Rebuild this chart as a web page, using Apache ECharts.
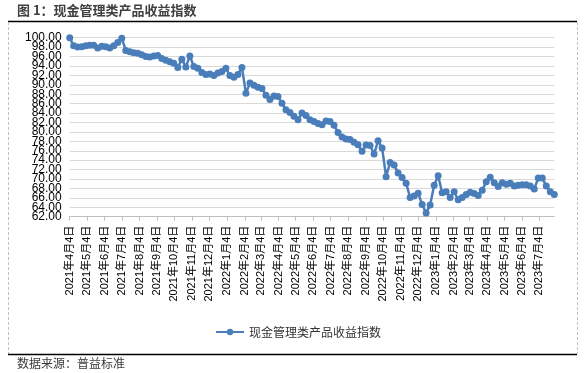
<!DOCTYPE html>
<html>
<head>
<meta charset="utf-8">
<script src="https://cdn.jsdelivr.net/npm/echarts@6/dist/echarts.min.js"></script>
<style>html,body{margin:0;padding:0;background:#fff}#c{width:585px;height:373px}</style>
</head>
<body>
<div id="c"></div>
<script>
var titleText = '图 1：现金管理类产品收益指数';
var sourceText = '数据来源：普益标准';
var seriesName = '现金管理类产品收益指数';

var dates = [
'2021-04-04','2021-04-11','2021-04-18','2021-04-25','2021-05-02','2021-05-09','2021-05-16','2021-05-23','2021-05-30','2021-06-06',
'2021-06-13','2021-06-20','2021-06-27','2021-07-04','2021-07-11','2021-07-18','2021-07-25','2021-08-01','2021-08-08','2021-08-15',
'2021-08-22','2021-08-29','2021-09-05','2021-09-12','2021-09-19','2021-09-26','2021-10-03','2021-10-10','2021-10-17','2021-10-24',
'2021-10-31','2021-11-07','2021-11-14','2021-11-21','2021-11-28','2021-12-05','2021-12-12','2021-12-19','2021-12-26',
'2022-01-02','2022-01-09','2022-01-16','2022-01-23','2022-01-30','2022-02-06','2022-02-13','2022-02-20','2022-02-27','2022-03-06',
'2022-03-13','2022-03-20','2022-03-27','2022-04-03','2022-04-10','2022-04-17','2022-04-24','2022-05-01','2022-05-08','2022-05-15',
'2022-05-22','2022-05-29','2022-06-05','2022-06-12','2022-06-19','2022-06-26','2022-07-03','2022-07-10','2022-07-17','2022-07-24',
'2022-07-31','2022-08-07','2022-08-14','2022-08-21','2022-08-28','2022-09-04','2022-09-11','2022-09-18','2022-09-25','2022-10-02',
'2022-10-09','2022-10-16','2022-10-23','2022-10-30','2022-11-06','2022-11-13','2022-11-20','2022-11-27','2022-12-04','2022-12-11',
'2022-12-18','2022-12-25',
'2023-01-01','2023-01-08','2023-01-15','2023-01-22','2023-01-29','2023-02-05','2023-02-12','2023-02-19','2023-02-26','2023-03-05',
'2023-03-12','2023-03-19','2023-03-26','2023-04-02','2023-04-09','2023-04-16','2023-04-23','2023-04-30','2023-05-07','2023-05-14',
'2023-05-21','2023-05-28','2023-06-04','2023-06-11','2023-06-18','2023-06-25','2023-07-02','2023-07-09','2023-07-16','2023-07-23',
'2023-07-30'
];

var values = [
100.0,98.3,98.0,98.1,98.3,98.4,98.4,97.8,98.2,98.1,
97.8,98.3,99.0,99.9,97.3,97.0,96.8,96.7,96.4,96.0,
95.9,96.1,96.2,95.6,95.2,94.9,94.6,93.7,95.4,93.8,
96.1,93.9,93.5,92.6,92.2,92.3,92.0,92.5,92.8,
93.5,92.0,91.6,92.2,93.7,88.2,90.4,89.9,89.5,89.2,
87.8,86.9,87.6,87.5,86.1,84.7,84.1,83.3,82.6,84.0,
83.5,82.6,82.2,81.8,81.5,82.3,82.2,81.4,79.9,78.9,
78.5,78.4,77.8,77.3,75.9,77.2,77.1,75.3,78.1,76.6,
70.5,73.5,73.0,71.3,70.3,69.1,66.1,66.4,67.0,64.6,
62.8,64.5,
68.7,70.7,67.1,67.3,66.1,67.3,65.6,66.1,66.7,67.2,
66.9,66.5,67.6,69.4,70.4,69.2,68.4,69.2,68.9,69.1,
68.5,68.7,68.8,68.8,68.5,67.9,70.2,70.2,68.5,67.3,
66.7
];

var tickDates = [
'2021-04-04','2021-05-04','2021-06-04','2021-07-04','2021-08-04','2021-09-04','2021-10-04','2021-11-04','2021-12-04',
'2022-01-04','2022-02-04','2022-03-04','2022-04-04','2022-05-04','2022-06-04','2022-07-04','2022-08-04','2022-09-04',
'2022-10-04','2022-11-04','2022-12-04','2023-01-04','2023-02-04','2023-03-04','2023-04-04','2023-05-04','2023-06-04','2023-07-04'
];

var yTicks = [62,64,66,68,70,72,74,76,78,80,82,84,86,88,90,92,94,96,98,100];
var yMin = 62, yMax = 100, yStep = 2;

function ts(s) { return Date.parse(s + 'T00:00:00Z'); }
var tickTs = tickDates.map(ts);
// split labels into two alternating sets so none of them is auto-hidden
var yTicksA = yTicks.filter(function (v, i) { return i % 2 === 0; });
var yTicksB = yTicks.filter(function (v, i) { return i % 2 === 1; });

var chart = echarts.init(document.getElementById('c'), null, {renderer: 'canvas'});
var cjk = "'Liberation Sans','Noto Sans CJK SC',sans-serif";

function yAxisDef(labelVals, showSplit) {
  return {
    type: 'value', position: 'left', offset: 0,
    min: yMin, max: yMax, interval: yStep,
    axisLine: {show: false},
    axisTick: {show: false},
    splitLine: {show: showSplit, lineStyle: {color: '#d9d9d9', width: 1}},
    axisLabel: {
      customValues: labelVals,
      fontSize: 12, color: '#000', margin: 8, fontFamily: cjk,
      hideOverlap: false,
      formatter: function (v) { return Number(v).toFixed(2); }
    }
  };
}

chart.setOption({
  animation: false,
  backgroundColor: '#ffffff',
  grid: {left: 69.7, right: 30.7, top: 37.7, bottom: 156.3, containLabel: false},
  graphic: [
    {type: 'text', left: 17, top: 4, style: {text: titleText, font: "bold 13px 'Noto Sans CJK SC',sans-serif", fill: '#404040'}},
    {type: 'line', shape: {x1: 8, y1: 21.5, x2: 577, y2: 21.5}, style: {stroke: '#000', lineWidth: 1.5}},
    {type: 'line', shape: {x1: 8.5, y1: 22, x2: 8.5, y2: 354}, style: {stroke: '#c0c0c0', lineWidth: 1, lineDash: [3, 2]}},
    {type: 'line', shape: {x1: 577.5, y1: 22, x2: 577.5, y2: 354}, style: {stroke: '#c0c0c0', lineWidth: 1, lineDash: [3, 2]}},
    {type: 'line', shape: {x1: 8, y1: 354.5, x2: 577, y2: 354.5}, style: {stroke: '#000', lineWidth: 1.5}},
    {type: 'text', left: 17, top: 357, style: {text: sourceText, font: "12px 'Noto Sans CJK SC',sans-serif", fill: '#3a3a3a'}}
  ],
  legend: {
    data: [seriesName],
    left: 210, top: 321,
    itemWidth: 28, itemHeight: 8, itemGap: 10,
    textStyle: {fontSize: 12, color: '#333', fontFamily: "'Noto Sans CJK SC',sans-serif"}
  },
  xAxis: {
    type: 'value',
    min: tickTs[0],
    max: ts(dates[dates.length - 1]),
    axisLine: {show: true, onZero: false, lineStyle: {color: '#bfbfbf', width: 1}},
    axisTick: {show: true, length: 4, lineStyle: {color: '#bfbfbf'}, customValues: tickTs},
    splitLine: {show: false},
    axisLabel: {
      customValues: tickTs,
      rotate: 90,
      margin: 9,
      fontSize: 11,
      color: '#000',
      fontFamily: cjk,
      hideOverlap: false,
      formatter: function (v) {
        var d = new Date(v);
        return d.getUTCFullYear() + '年' + (d.getUTCMonth() + 1) + '月' + d.getUTCDate() + '日';
      }
    }
  },
  yAxis: [yAxisDef(yTicksA, true), yAxisDef(yTicksB, false)],
  series: [{
    name: seriesName,
    type: 'line',
    yAxisIndex: 0,
    data: dates.map(function (d, i) { return [ts(d), values[i]]; }),
    symbol: 'circle',
    symbolSize: 7,
    showAllSymbol: true,
    lineStyle: {width: 2.5, color: '#4a7ebb'},
    itemStyle: {color: '#4a7ebb'}
  }]
});
</script>
</body>
</html>
